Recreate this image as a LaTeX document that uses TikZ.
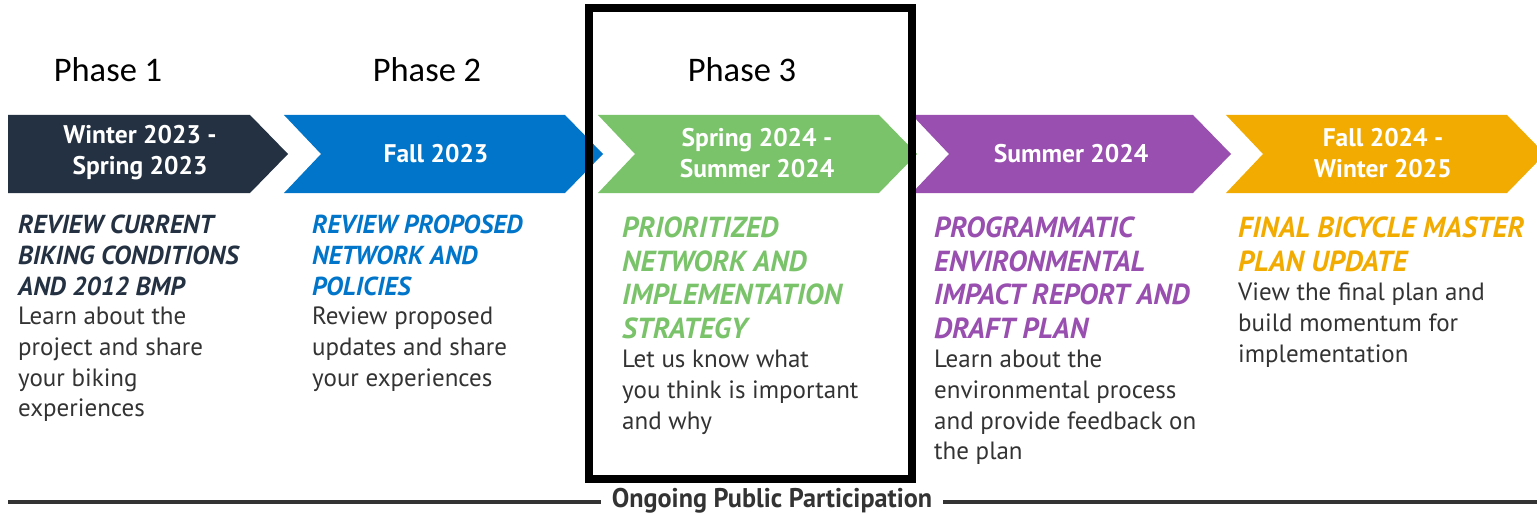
\documentclass[tikz,border=0pt]{standalone}
\usepackage{fontspec}
\setmainfont{PT Sans}
\newfontfamily\phasefont{Carlito}
\usepackage{graphicx}
\definecolor{navy}{HTML}{243142}
\definecolor{pblue}{HTML}{0075C9}
\definecolor{pgreen}{HTML}{7AC36A}
\definecolor{ppurple}{HTML}{984FAF}
\definecolor{porange}{HTML}{F2AB00}
\definecolor{bodygray}{HTML}{333333}
\tikzset{
  phase/.style={font=\phasefont\fontsize{34.5}{40}\selectfont, text=black, inner sep=0},
  datelbl/.style={font=\bfseries\fontsize{25.5}{31}\selectfont, text=white, align=center, inner sep=0},
  headA/.style={font=\bfseries\itshape\fontsize{26}{30.7}\selectfont, align=left, anchor=north west, inner sep=0},
  headB/.style={font=\bfseries\itshape\fontsize{29}{33.7}\selectfont, align=left, anchor=north west, inner sep=0},
  bodytxt/.style={font=\fontsize{25}{30.7}\selectfont, text=bodygray, align=left, anchor=north west, inner sep=0},
}
\begin{document}
\begin{tikzpicture}[x=1pt,y=-1pt]
\useasboundingbox (0,0) rectangle (1537,516);
\begin{scope}
\clip (0,0) rectangle (1537,516);
% chevrons
\fill[navy] (8,115) -- (250,115) -- (288,154) -- (250,193) -- (8,193) -- cycle;
\fill[pblue] (284,115) -- (565,115) -- (603,154) -- (565,193) -- (284,193) -- (321,154) -- cycle;
\fill[pgreen] (598,115) -- (879,115) -- (917,154) -- (879,193) -- (598,193) -- (635,154) -- cycle;
\fill[ppurple] (912,115) -- (1193,115) -- (1231,154) -- (1193,193) -- (912,193) -- (949,154) -- cycle;
\fill[porange] (1226,115) -- (1507,115) -- (1545,154) -- (1507,193) -- (1226,193) -- (1263,154) -- cycle;
\end{scope}

% phases
\node[phase] (ph1) at (108,70) {Phase 1};
\node[phase] (ph2) at (427,70) {Phase 2};
\node[phase] (ph3) at (742,70) {Phase 3};

% date labels
\node[datelbl] (d1) at (140,153) {Winter 2023 -\\Spring 2023};
\node[datelbl] (d2) at (436,154) {Fall 2023};
\node[datelbl] (d3) at (757,153) {Spring 2024 -\\Summer 2024};
\node[datelbl] (d4) at (1071,154) {Summer 2024};
\node[datelbl] (d5) at (1383,153) {Fall 2024 -\\Winter 2025};

% column 1
\node[headA, text=navy] (h1) at (18,215) {REVIEW CURRENT\\BIKING CONDITIONS\\AND 2012 BMP};
\node[bodytxt] (b1) at (18,307) {Learn about the\\project and share\\your biking\\experiences};
% column 2
\node[headA, text=pblue] (h2) at (312,215) {REVIEW PROPOSED\\NETWORK AND\\POLICIES};
\node[bodytxt] (b2) at (312,307) {Review proposed\\updates and share\\your experiences};
% column 3
\node[headB, text=pgreen] (h3) at (622,216.5) {PRIORITIZED\\NETWORK AND\\IMPLEMENTATION\\STRATEGY};
\node[bodytxt] (b3) at (622,350) {Let us know what\\you think is important\\and why};
% column 4
\node[headB, text=ppurple] (h4) at (934,216.5) {PROGRAMMATIC\\ENVIRONMENTAL\\IMPACT REPORT AND\\DRAFT PLAN};
\node[bodytxt] (b4) at (934,350) {Learn about the\\environmental process\\and provide feedback on\\the plan};
% column 5
\node[headB, text=porange] (h5) at (1238,216.5) {FINAL BICYCLE MASTER\\PLAN UPDATE};
\node[bodytxt] (b5) at (1238,283) {View the final plan and\\build momentum for\\implementation};

% phase 3 frame
\draw[line width=8.5, black] (589,8) rectangle (912,479);

% ongoing line
\node[font=\bfseries\fontsize{27}{30}\selectfont, text=bodygray, inner xsep=11, inner ysep=0] (opp) at (772,501) {\scalebox{0.97}[1]{Ongoing Public Participation}};
\coordinate (lineL) at (8,502);
\coordinate (lineR) at (1537,502);
\draw[line width=3.5, bodygray] (lineL) -- (lineL -| opp.west);
\draw[line width=3.5, bodygray] (lineR -| opp.east) -- (lineR);
\end{tikzpicture}
\end{document}
